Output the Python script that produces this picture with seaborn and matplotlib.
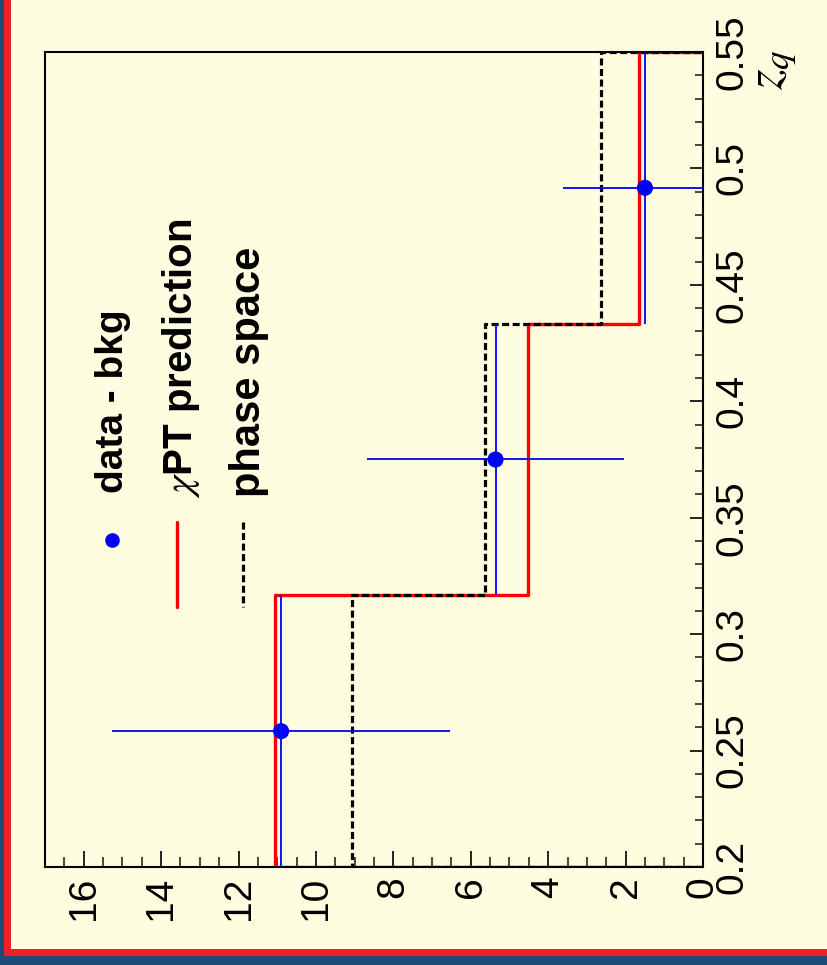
import numpy as np
import pandas as pd
import matplotlib
matplotlib.use('Agg')
import matplotlib.pyplot as plt
from matplotlib.lines import Line2D
from matplotlib.patches import Rectangle
from matplotlib.ticker import MultipleLocator
import seaborn as sns

# ---- data ----
bin_edges = [0.2, 0.31667, 0.43333, 0.55]
bin_centers = [0.25833, 0.375, 0.49167]
data_bkg = [10.9, 5.36, 1.5]
data_err = [4.37, 3.33, 2.12]
chipt_pred = [11.07, 4.52, 1.66]
phase_space = [9.08, 5.62, 2.63]
x_ticks = [0, 2, 4, 6, 8, 10, 12, 14, 16]
x_tick_labels = ['0', '2', '4', '6', '8', '10', '12', '14', '16']
z_ticks = [0.2, 0.25, 0.3, 0.35, 0.4, 0.45, 0.5, 0.55]
z_tick_labels = ['0.2', '0.25', '0.3', '0.35', '0.4', '0.45', '0.5', '0.55']
legend_labels = ['data - bkg', r'$\chi$PT prediction', 'phase space']
axis_title = r'$z_q$'

sns.set_style('ticks')
plt.rcParams['font.family'] = ['Liberation Sans', 'DejaVu Sans']
plt.rcParams['mathtext.fontset'] = 'stix'

BG = '#FFFDE0'
DARK = '#1D4C77'
RED_B = '#EE1F26'
W, H = 827, 965
fig = plt.figure(figsize=(8.27, 9.65), dpi=100, facecolor=BG)


def fx(p):
    return p / W


def fy(p):
    return 1 - p / H


ax = fig.add_axes([fx(45), fy(867), fx(703) - fx(45), fy(52) - fy(867)])
ax.set_facecolor(BG)


def hist_outline(vals):
    zs, xs = [bin_edges[0]], [0.0]
    for i, v in enumerate(vals):
        zs += [bin_edges[i], bin_edges[i + 1]]
        xs += [v, v]
    zs.append(bin_edges[-1])
    xs.append(0.0)
    return pd.DataFrame({'z': zs, 'v': xs})


sns.lineplot(data=hist_outline(chipt_pred), x='v', y='z', sort=False,
             estimator=None, color='#FF0000', linewidth=2.4, ax=ax, zorder=2)
sns.lineplot(data=hist_outline(phase_space), x='v', y='z', sort=False,
             estimator=None, color='black', linewidth=2.3, ax=ax, zorder=3,
             dashes=False)
ax.lines[-1].set_dashes((2.2, 1.1))

half_w = [(bin_edges[i + 1] - bin_edges[i]) / 2 for i in range(len(bin_centers))]
ax.errorbar(data_bkg, bin_centers, xerr=data_err, yerr=half_w, fmt='none',
            ecolor='#0000FF', elinewidth=1.3, capsize=0, zorder=4)
sns.scatterplot(x=data_bkg, y=bin_centers, color='#0000FF', s=135,
                edgecolor='none', ax=ax, zorder=5)

ax.set_xlim(17, 0)
ax.set_ylim(0.2, 0.55)
ax.set_xlabel('')
ax.set_ylabel('')

for s in ax.spines.values():
    s.set_visible(True)
    s.set_color('black')
    s.set_linewidth(1.5)

ax.set_xticks(x_ticks)
ax.set_xticklabels(x_tick_labels, rotation=90, fontsize=28)
ax.xaxis.set_minor_locator(MultipleLocator(0.5))
ax.tick_params(axis='x', which='major', direction='in', length=11.5,
               width=1.2, pad=7, bottom=True, top=False, colors='black')
ax.tick_params(axis='x', which='minor', direction='in', length=7,
               width=1.2, bottom=True, top=False)

ax.yaxis.tick_right()
ax.set_yticks(z_ticks)
ax.set_yticklabels(z_tick_labels, rotation=90, fontsize=28, va='center')
ax.yaxis.set_minor_locator(MultipleLocator(0.01))
ax.tick_params(axis='y', which='major', direction='in', length=9.5,
               width=1.2, pad=8, left=False, right=True, colors='black')
ax.tick_params(axis='y', which='minor', direction='in', length=5.8,
               width=1.2, left=False, right=True)

# axis title
fig.text(fx(782), fy(50), axis_title, rotation=90, rotation_mode='anchor',
         ha='right', va='baseline', fontsize=38, color='black')

# legend
leg_x = [123, 192, 260]
leg_y0 = [493, 498, 497]
leg_sizes = [28, 29, 30]
for lab, xb, y0, fs in zip(legend_labels, leg_x, leg_y0, leg_sizes):
    fig.text(fx(xb), fy(y0), lab, rotation=90, rotation_mode='anchor',
             ha='left', va='baseline', fontsize=fs, fontweight='bold',
             color='black')
fig.add_artist(Line2D([fx(112)], [fy(540)], marker='o', markersize=9.5,
                      color='#0000FF', linestyle='none',
                      transform=fig.transFigure))
fig.add_artist(Line2D([fx(177), fx(177)], [fy(522), fy(607)],
                      color='#FF0000', linewidth=2.4, transform=fig.transFigure))
fig.add_artist(Line2D([fx(243), fx(243)], [fy(522), fy(607)],
                      color='black', linewidth=2.3, dashes=(2.2, 1.1),
                      transform=fig.transFigure))

# borders
fig.add_artist(Rectangle((0, 0), fx(4), 1, transform=fig.transFigure,
                         facecolor=DARK, edgecolor='none', zorder=10))
fig.add_artist(Rectangle((fx(4), 0), fx(11) - fx(4), 1, transform=fig.transFigure,
                         facecolor=RED_B, edgecolor='none', zorder=10))
fig.add_artist(Rectangle((0, 0), 1, fy(956), transform=fig.transFigure,
                         facecolor=DARK, edgecolor='none', zorder=10))
fig.add_artist(Rectangle((fx(4), fy(956)), 1, fy(949) - fy(956),
                         transform=fig.transFigure,
                         facecolor=RED_B, edgecolor='none', zorder=10))

fig.savefig('out.png', dpi=100, facecolor=BG)
